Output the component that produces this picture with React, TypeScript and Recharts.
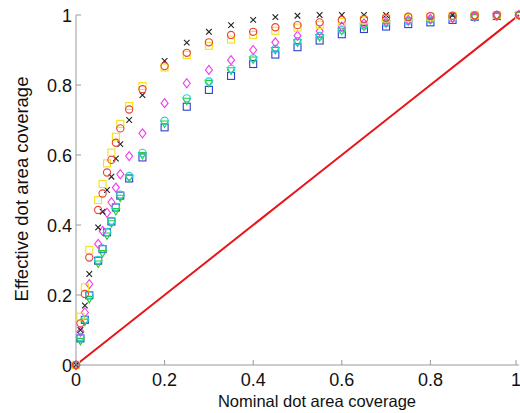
import { ScatterChart, Scatter, XAxis, YAxis } from 'recharts'

// nominal coverage levels shared by all measured series
const nominal = [0, 0.01, 0.02, 0.03, 0.05, 0.06, 0.07, 0.08, 0.09, 0.1, 0.12, 0.15, 0.2, 0.25, 0.3, 0.35, 0.4, 0.45, 0.5, 0.55, 0.6, 0.65, 0.7, 0.75, 0.8, 0.85, 0.9, 0.95, 1]

const yellowSquares = [0, 0.138, 0.222, 0.329, 0.471, 0.517, 0.576, 0.607, 0.652, 0.689, 0.74, 0.797, 0.85, 0.886, 0.912, 0.93, 0.943, 0.955, 0.964, 0.972, 0.98, 0.985, 0.99, 0.992, 0.995, 0.997, 1, 1, 1]
const redCircles = [0, 0.119, 0.203, 0.307, 0.443, 0.49, 0.55, 0.586, 0.635, 0.676, 0.73, 0.788, 0.854, 0.892, 0.922, 0.943, 0.952, 0.965, 0.971, 0.979, 0.986, 0.989, 0.992, 0.995, 0.997, 0.998, 0.999, 1, 1]
const blackCrosses = [0, 0.1, 0.17, 0.26, 0.393, 0.438, 0.5, 0.538, 0.59, 0.631, 0.7, 0.771, 0.869, 0.921, 0.952, 0.971, 0.986, 0.994, 0.998, 1, 1, 1, 1, null, null, 1, null, null, null]
const magentaDiamonds = [0, 0.095, 0.15, 0.231, 0.346, 0.383, 0.435, 0.465, 0.507, 0.545, 0.597, 0.662, 0.748, 0.805, 0.843, 0.871, 0.9, 0.922, 0.941, 0.954, 0.967, 0.976, 0.981, 0.986, 0.989, 0.992, 0.995, 0.998, 1]
const cyanCircles = [0, 0.08, 0.13, 0.2, 0.3, 0.333, 0.38, 0.412, 0.452, 0.487, 0.54, 0.606, 0.698, 0.762, 0.81, 0.846, 0.876, 0.903, 0.925, 0.94, 0.957, 0.969, 0.977, 0.983, 0.987, 0.991, 0.995, 0.998, 1]
const greenTriangles = [0, 0.069, 0.124, 0.189, 0.29, 0.32, 0.37, 0.405, 0.44, 0.478, 0.535, 0.6, 0.69, 0.755, 0.806, 0.842, 0.873, 0.9, 0.922, 0.937, 0.955, 0.967, 0.976, 0.982, 0.986, 0.99, 0.994, 0.997, 1]
const blueSquares = [0, 0.076, 0.129, 0.199, 0.298, 0.331, 0.379, 0.41, 0.45, 0.484, 0.533, 0.593, 0.679, 0.738, 0.786, 0.826, 0.86, 0.887, 0.908, 0.927, 0.945, 0.96, 0.967, 0.974, 0.979, 0.986, 0.995, 0.997, 1]

// ideal (linear) response
const linearX = [0, 0.25, 0.5, 0.75, 1]
const linearY = [0, 0.25, 0.5, 0.75, 1]

const axisTicks = [0, 0.2, 0.4, 0.6, 0.8, 1]
const tickLabels = ['0', '0.2', '0.4', '0.6', '0.8', '1']

const FONT = '"Liberation Sans", Arial, sans-serif'
const AXIS = '#9a9a9a'

function toPoints(xs: number[], ys: (number | null)[]) {
  return xs
    .map((x, i) => ({ x, y: ys[i] }))
    .filter((p) => p.y !== null && p.y !== undefined)
}

function labelFor(v: number) {
  const i = axisTicks.findIndex((t) => Math.abs(t - v) < 1e-9)
  return i >= 0 ? tickLabels[i] : String(v)
}

function XTick({ x, y, payload }: any) {
  return (
    <g>
      <line x1={x} x2={x} y1={y} y2={y - 5} stroke={AXIS} />
      <text x={x} y={y + 21} textAnchor="middle" fontSize={18} fontFamily={FONT} fill="#111">
        {labelFor(payload.value)}
      </text>
    </g>
  )
}

function YTick({ x, y, payload }: any) {
  return (
    <g>
      <line x1={x} x2={x + 5} y1={y} y2={y} stroke={AXIS} />
      <text x={x - 4} y={y + 7} textAnchor="end" fontSize={18} fontFamily={FONT} fill="#111">
        {labelFor(payload.value)}
      </text>
    </g>
  )
}

const hollow = (color: string) => ({ fill: 'none', stroke: color, strokeWidth: 1.1 })

const squareShape = (color: string) => (p: any) => (
  <rect x={p.cx - 3.5} y={p.cy - 3.5} width={7} height={7} {...hollow(color)} />
)
const circleShape = (color: string) => (p: any) => (
  <circle cx={p.cx} cy={p.cy} r={3.6} {...hollow(color)} />
)
const diamondShape = (color: string) => (p: any) => (
  <path d={`M${p.cx},${p.cy - 4.5}L${p.cx + 3.5},${p.cy}L${p.cx},${p.cy + 4.5}L${p.cx - 3.5},${p.cy}Z`} {...hollow(color)} />
)
const triangleShape = (color: string) => (p: any) => (
  <path d={`M${p.cx - 3.8},${p.cy - 2.5}L${p.cx + 3.8},${p.cy - 2.5}L${p.cx},${p.cy + 4}Z`} {...hollow(color)} />
)
const crossShape = (color: string) => (p: any) => (
  <path d={`M${p.cx - 2.8},${p.cy - 2.8}L${p.cx + 2.8},${p.cy + 2.8}M${p.cx - 2.8},${p.cy + 2.8}L${p.cx + 2.8},${p.cy - 2.8}`} stroke={color} strokeWidth={1.1} fill="none" />
)
const noShape = () => <g />

export default function App() {
  return (
    <div style={{ position: 'absolute', left: 0, top: 0, width: 520, height: 413, background: '#fff' }}>
      <ScatterChart width={520} height={413} margin={{ top: 15, right: 1, left: 0, bottom: 0 }}>
        <XAxis
          type="number"
          dataKey="x"
          domain={[0, 1]}
          ticks={axisTicks}
          tick={<XTick />}
          tickLine={false}
          tickSize={0}
          tickMargin={0}
          height={48}
          axisLine={{ stroke: AXIS }}
          label={(props: any) => (
            <text
              x={317}
              y={(props.viewBox?.y ?? 365) + 42}
              textAnchor="middle"
              fontSize={16.5}
              fontFamily={FONT}
              fill="#111"
            >
              Nominal dot area coverage
            </text>
          )}
        />
        <YAxis
          type="number"
          dataKey="y"
          domain={[0, 1]}
          ticks={axisTicks}
          tick={<YTick />}
          tickLine={false}
          tickSize={0}
          tickMargin={0}
          width={76}
          axisLine={{ stroke: AXIS }}
          label={() => (
            <text
              x={28}
              y={189}
              transform="rotate(-90 28 189)"
              textAnchor="middle"
              fontSize={18.5}
              fontFamily={FONT}
              fill="#111"
            >
              Effective dot area coverage
            </text>
          )}
        />
        <Scatter
          data={toPoints(linearX, linearY)}
          line={{ stroke: '#e8141a', strokeWidth: 2 }}
          lineType="joint"
          shape={noShape}
          isAnimationActive={false}
        />
        <Scatter data={toPoints(nominal, blueSquares)} shape={squareShape('#2f3fd0')} isAnimationActive={false} />
        <Scatter data={toPoints(nominal, greenTriangles)} shape={triangleShape('#1fcf2a')} isAnimationActive={false} />
        <Scatter data={toPoints(nominal, cyanCircles)} shape={circleShape('#22d0d8')} isAnimationActive={false} />
        <Scatter data={toPoints(nominal, magentaDiamonds)} shape={diamondShape('#ee3cee')} isAnimationActive={false} />
        <Scatter data={toPoints(nominal, blackCrosses)} shape={crossShape('#222')} isAnimationActive={false} />
        <Scatter data={toPoints(nominal, yellowSquares)} shape={squareShape('#f2e21a')} isAnimationActive={false} />
        <Scatter data={toPoints(nominal, redCircles)} shape={circleShape('#e8403a')} isAnimationActive={false} />
      </ScatterChart>
    </div>
  )
}
